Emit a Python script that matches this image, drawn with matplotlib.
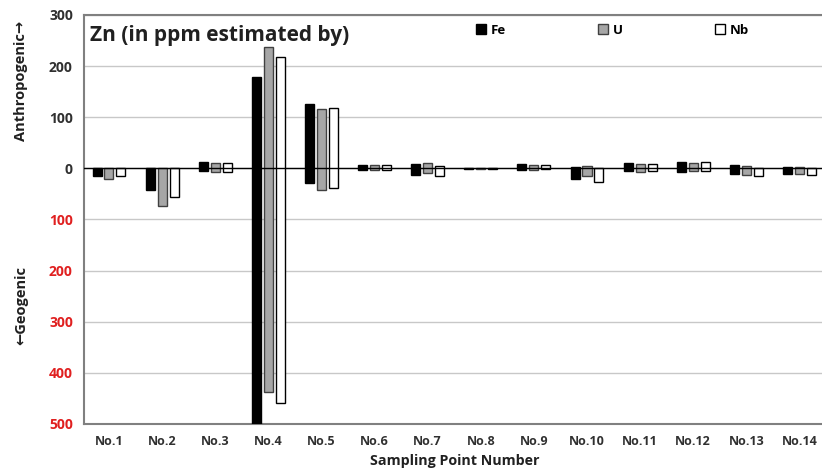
import matplotlib.pyplot as plt
import numpy as np

plt.rcParams['font.family'] = ['Open Sans', 'DejaVu Sans']

points = ["No.%d" % i for i in range(1, 15)]

# each bar floats from the geogenic share (below 0) up to the anthropogenic share (above 0)
fe_low = [-15, -42, -5, -500, -29, -3, -13, -1, -3, -20, -5, -8, -11, -11]
fe_high = [0, 0, 12, 178, 126, 6, 8, 1, 8, 2, 11, 13, 6, 3]
u_low = [-20, -73, -7, -437, -42, -3, -10, -1, -3, -15, -8, -6, -13, -11]
u_high = [0, 0, 10, 238, 116, 6, 10, 1, 7, 4, 8, 10, 4, 2]
nb_low = [-14, -56, -7, -458, -38, -3, -15, -1, -2, -26, -6, -6, -15, -13]
nb_high = [0, 0, 10, 218, 118, 6, 5, 1, 7, 0, 8, 12, 1, 1]

ytick_vals = [-500, -400, -300, -200, -100, 0, 100, 200, 300]

fig = plt.figure(figsize=(8.22, 4.74), dpi=100)
ax = fig.add_axes([0.1022, 0.1055, 0.9027, 0.8629])

x = np.arange(len(points))
w = 0.17
step = 0.225
series = [
    ("Fe", fe_low, fe_high, "black", "black"),
    ("U", u_low, u_high, "#a6a6a6", "#404040"),
    ("Nb", nb_low, nb_high, "white", "black"),
]
handles = []
for i, (name, low, high, fc, ec) in enumerate(series):
    low = np.array(low)
    high = np.array(high)
    b = ax.bar(x + (i - 1) * step, high - low, bottom=low, width=w,
               color=fc, edgecolor=ec, linewidth=1.0, label=name, zorder=3)
    handles.append(b)

ax.axhline(0, color="black", linewidth=1.0, zorder=4)

ax.set_xlim(-0.47, 13.5)
ax.set_ylim(-500, 300)
ax.set_yticks(ytick_vals)
ax.set_yticklabels([str(abs(v)) for v in ytick_vals], fontsize=10, fontweight="bold")
for lbl, v in zip(ax.get_yticklabels(), ytick_vals):
    lbl.set_color("#e02020" if v < 0 else "#303030")
ax.set_xticks(x)
ax.set_xticklabels(points, fontsize=9, fontweight="bold", color="#303030")
ax.tick_params(axis="both", length=0, pad=8)

ax.yaxis.grid(True, color="#c8c8c8", linewidth=1.0, zorder=0)
for s in ["left", "bottom", "top"]:
    ax.spines[s].set_color("#808080")
    ax.spines[s].set_linewidth(1.5)
ax.spines["right"].set_visible(False)

ax.set_xlabel("Sampling Point Number", fontsize=10.3, fontweight="bold",
              color="#202020", labelpad=4)

fig.text(0.026, 0.83, "Anthropogenic\u2192", rotation=90, fontsize=10.5,
         fontweight="bold", ha="center", va="center", color="#202020")
fig.text(0.026, 0.355, "\u2190Geogenic", rotation=90, fontsize=10.5,
         fontweight="bold", ha="center", va="center", color="#202020")

ax.text(0.008, 0.975, "Zn (in ppm estimated by)", transform=ax.transAxes,
        fontsize=15, fontweight="bold", va="top", ha="left", color="#202020")

ax.legend(handles=handles, loc="upper left", bbox_to_anchor=(0.512, 1.008),
          ncol=3, frameon=False, handlelength=0.8, handleheight=0.8,
          handletextpad=0.3, columnspacing=7.0,
          prop={"weight": "bold", "size": 9.5})

fig.savefig("out.png", dpi=100)
